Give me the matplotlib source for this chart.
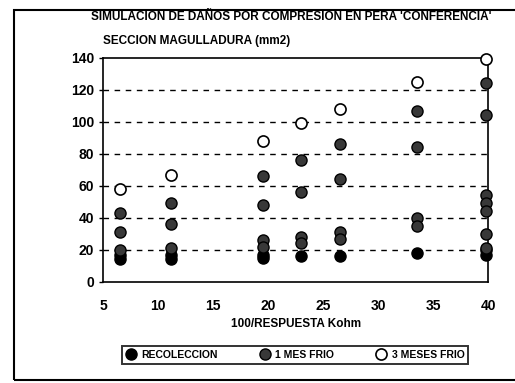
import matplotlib
matplotlib.use('Agg')
import matplotlib.pyplot as plt
from matplotlib.patches import Rectangle

plt.rcParams['font.family'] = ['Liberation Sans', 'DejaVu Sans']
plt.rcParams['font.weight'] = 'bold'
plt.rcParams['axes.labelweight'] = 'bold'

# recoleccion
rec_x = [6.5, 6.5, 11.2, 11.2, 19.5, 19.5, 23.0, 26.5, 33.5, 39.8, 39.8]
rec_y = [14, 17, 14, 17, 15, 17, 16, 16, 18, 17, 20]

# 1 mes frio
mes1_x = [6.5, 6.5, 6.5, 11.2, 11.2, 11.2,
          19.5, 19.5, 19.5, 19.5,
          23.0, 23.0, 23.0, 23.0,
          26.5, 26.5, 26.5, 26.5,
          33.5, 33.5, 33.5, 33.5,
          39.8, 39.8, 39.8, 39.8, 39.8, 39.8, 39.8]
mes1_y = [43, 31, 20, 49, 36, 21,
          66, 48, 26, 22,
          76, 56, 28, 24,
          86, 64, 31, 27,
          107, 84, 40, 35,
          124, 104, 54, 49, 44, 30, 21]

# 3 meses frio
mes3_x = [6.5, 11.2, 19.5, 23.0, 26.5, 33.5, 39.8]
mes3_y = [58, 67, 88, 99, 108, 125, 139]

x_ticks = [5, 10, 15, 20, 25, 30, 35, 40]
y_ticks = [0, 20, 40, 60, 80, 100, 120, 140]

fig = plt.figure(figsize=(5.15, 3.83), dpi=100)
ax = fig.add_axes([0.2, 0.264, 0.748, 0.585])

ax.plot(rec_x, rec_y, 'o', color='black', ms=8, mec='black',
        label='RECOLECCION', clip_on=False, zorder=3)
ax.plot(mes1_x, mes1_y, 'o', color='#383838', ms=8, mec='black',
        mew=1.0, label='1 MES FRIO', clip_on=False, zorder=4)
ax.plot(mes3_x, mes3_y, 'o', mfc='white', mec='black', ms=8,
        mew=1.2, label='3 MESES FRIO', clip_on=False, zorder=5)

ax.set_xlim(5, 40)
ax.set_ylim(0, 140)
ax.set_xticks(x_ticks)
ax.set_yticks(y_ticks)
ax.tick_params(axis='x', length=0, pad=12, labelsize=10)
ax.tick_params(axis='y', length=3, width=1, direction='out', labelsize=10)
for y in y_ticks[1:-1]:
    ax.axhline(y, color='black', lw=1, ls=(0, (4, 4)), zorder=1)
for s in ax.spines.values():
    s.set_linewidth(1.2)

ax.set_xlabel('100/RESPUESTA Kohm', fontsize=8.5, labelpad=4)
fig.text(0.566, 0.955, "SIMULACION DE DAÑOS POR COMPRESION EN PERA 'CONFERENCIA'",
         ha='center', va='center', fontsize=8.5)
fig.text(0.2, 0.893, 'SECCION MAGULLADURA (mm2)', ha='left', va='center',
         fontsize=8.5)

leg = fig.legend(loc='center', bbox_to_anchor=(0.573, 0.073), ncol=3,
                 fontsize=7.5, frameon=True, fancybox=False, edgecolor='black',
                 handletextpad=0.5, columnspacing=4.0, borderpad=0.4,
                 handlelength=1.0)
leg.get_frame().set_linewidth(1.4)
for h in leg.legend_handles:
    h.set_markersize(8)

fig.patches.append(Rectangle((0.027, 0.008), 0.99, 0.965, transform=fig.transFigure,
                             fill=False, edgecolor='black', lw=1.5))

fig.savefig('out.png', dpi=100)
